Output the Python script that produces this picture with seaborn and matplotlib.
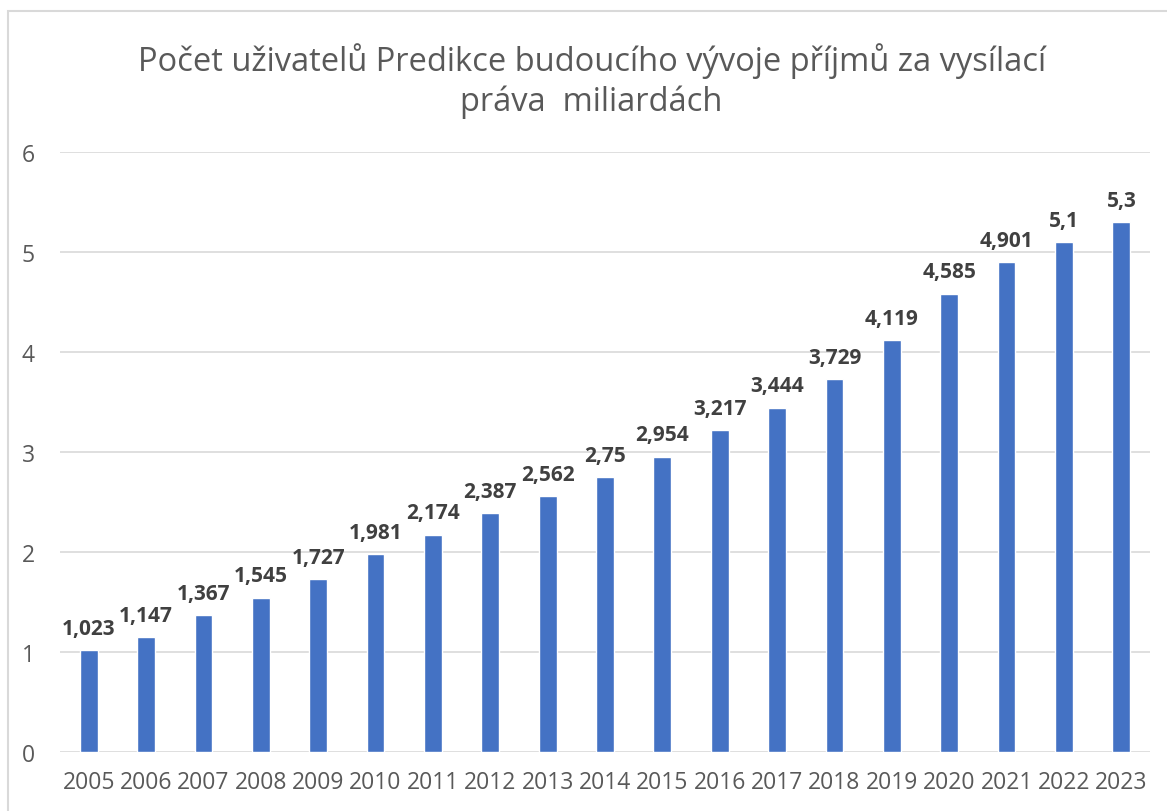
import matplotlib
matplotlib.use("Agg")
import matplotlib.pyplot as plt
import matplotlib.patches as patches
import pandas as pd
import seaborn as sns

# data
years = ['2005', '2006', '2007', '2008', '2009', '2010', '2011', '2012', '2013', '2014',
         '2015', '2016', '2017', '2018', '2019', '2020', '2021', '2022', '2023']
values = [1.023, 1.147, 1.367, 1.545, 1.727, 1.981, 2.174, 2.387, 2.562, 2.75,
          2.954, 3.217, 3.444, 3.729, 4.119, 4.585, 4.901, 5.1, 5.3]
title = "Počet uživatelů Predikce budoucího vývoje příjmů za vysílací\npráva  miliardách"

df = pd.DataFrame({'rok': years, 'hodnota': values})

sns.set_theme(style="white")
plt.rcParams['font.family'] = ['Open Sans', 'DejaVu Sans']

fig = plt.figure(figsize=(11.67, 8.12), dpi=100)
ax = fig.add_axes([60 / 1167, 1 - 753 / 812, 1090 / 1167, 600 / 812])

sns.barplot(data=df, x='rok', y='hodnota', color='#4472C4', width=0.31,
            saturation=1, ax=ax)

# data labels with decimal comma
labels = [f"{v:g}".replace('.', ',') for v in values]
ax.bar_label(ax.containers[0], labels=labels, padding=8, fontsize=15,
             fontweight='bold', color='#404040')

ax.set_ylim(0, 6)
ax.set_xlim(-0.5, len(years) - 0.5)
ax.set_yticks(range(0, 7))
ax.yaxis.grid(True, color='#D9D9D9', linewidth=1.2)
ax.set_axisbelow(True)
for s in ax.spines.values():
    s.set_visible(False)
ax.set_xlabel('')
ax.set_ylabel('')
ax.tick_params(axis='both', length=0, labelsize=16.5, colors='#595959')
ax.tick_params(axis='x', pad=13)
ax.tick_params(axis='y', pad=18)

fig.text(0.507, 1 - 81 / 812, title, ha='center', va='center', fontsize=23.5,
         color='#595959', linespacing=1.25)

# chart frame
fig.patches.append(patches.Rectangle((8 / 1167, -0.05), 1.1, 1 - 12 / 812 + 0.05,
                                     transform=fig.transFigure, fill=False,
                                     edgecolor='#D9D9D9', linewidth=1.5))

fig.savefig('out.png', dpi=100)
